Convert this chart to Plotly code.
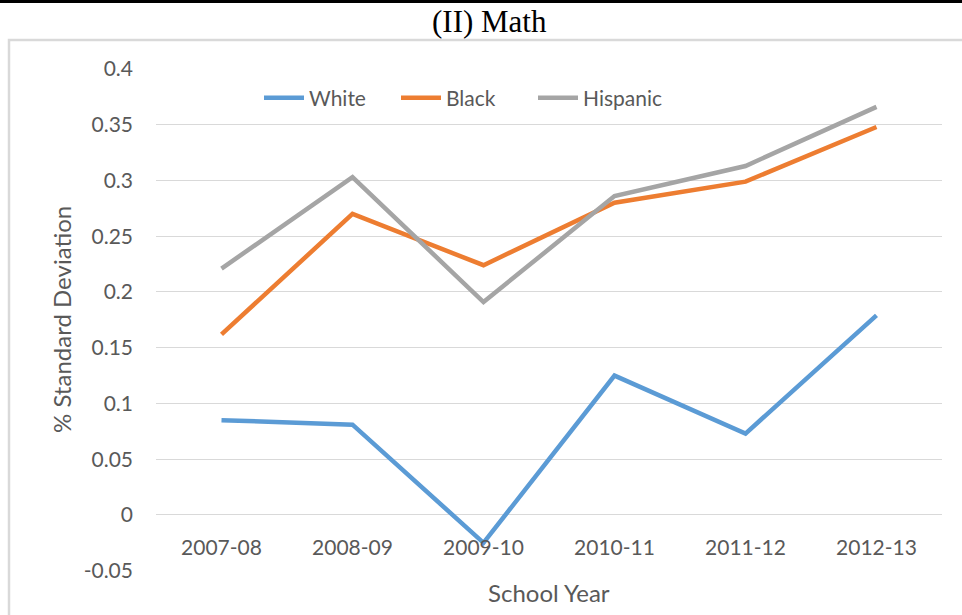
import plotly.graph_objects as go

years = ["2007-08", "2008-09", "2009-10", "2010-11", "2011-12", "2012-13"]
white = [0.085, 0.081, -0.025, 0.125, 0.073, 0.179]
black = [0.162, 0.270, 0.224, 0.280, 0.299, 0.348]
hispanic = [0.221, 0.303, 0.191, 0.286, 0.313, 0.366]
y_ticks = [-0.05, 0, 0.05, 0.1, 0.15, 0.2, 0.25, 0.3, 0.35, 0.4]
y_ticktext = ["-0.05", "0", "0.05", "0.1", "0.15", "0.2", "0.25", "0.3", "0.35", "0.4"]

W, H = 962, 615
FONT = "Lato"
GREY = "#595959"
TICK = 21

fig = go.Figure()
for name, vals, col in [("White", white, "#5B9BD5"), ("Black", black, "#ED7D31"), ("Hispanic", hispanic, "#A5A5A5")]:
    fig.add_trace(go.Scatter(x=years, y=vals, name=name, mode="lines",
                             line=dict(color=col, width=4.5)))

def py(p):
    return 1 - p / H

fig.update_layout(
    width=W, height=H,
    margin=dict(l=0, r=0, t=0, b=0, pad=0, autoexpand=False),
    paper_bgcolor="white", plot_bgcolor="white",
    font=dict(family=FONT, color=GREY, size=TICK),
    showlegend=True,
    legend=dict(orientation="h", x=259 / W, y=py(98), xanchor="left", yanchor="middle",
                font=dict(family=FONT, size=TICK, color=GREY), bgcolor="rgba(0,0,0,0)",
                itemwidth=40, entrywidth=82, tracegroupgap=0),
    xaxis=dict(domain=[156 / W, 942 / W], range=[-0.5, 5.5], type="category",
               anchor="free", position=py(514.3), showgrid=False, showline=False,
               ticks="", automargin=False, ticklabelstandoff=19,
               tickfont=dict(family=FONT, size=TICK, color=GREY)),
    yaxis=dict(domain=[py(570.7), py(69)], range=[-0.05, 0.4], tickvals=y_ticks,
               ticktext=y_ticktext, showgrid=True, gridcolor="#D9D9D9", gridwidth=1,
               zeroline=False, showline=False, ticks="", ticklabelstandoff=22, automargin=False,
               tickfont=dict(family=FONT, size=TICK, color=GREY)),
    shapes=[
        dict(type="rect", xref="paper", yref="paper", x0=0, x1=1, y0=py(3), y1=1,
             fillcolor="black", line=dict(width=0)),
        dict(type="rect", xref="paper", yref="paper", x0=9 / W, x1=1.05, y0=-0.05, y1=py(40),
             fillcolor="rgba(0,0,0,0)", line=dict(color="#D9D9D9", width=2.5)),
    ],
    annotations=[
        dict(text="(II) Math", xref="paper", yref="paper", x=489 / W, y=py(21),
             xanchor="center", yanchor="middle", showarrow=False,
             font=dict(family="Liberation Serif", size=31, color="black")),
        dict(text="School Year", xref="paper", yref="paper", x=549 / W, y=py(592),
             xanchor="center", yanchor="middle", showarrow=False,
             font=dict(family=FONT, size=24, color=GREY)),
        dict(text="% Standard Deviation", xref="paper", yref="paper", x=61 / W, y=py(320),
             xanchor="center", yanchor="middle", showarrow=False, textangle=-90,
             font=dict(family=FONT, size=24, color=GREY)),
    ],
)

post = ("document.body.style.margin='0';document.body.style.padding='0';"
        "document.documentElement.style.overflow='hidden';"
        "var d=document.getElementById('{plot_id}');d.style.position='absolute';"
        "d.style.top='0px';d.style.left='0px';")
fig.write_html("out.html", post_script=post, config={"displayModeBar": False})
